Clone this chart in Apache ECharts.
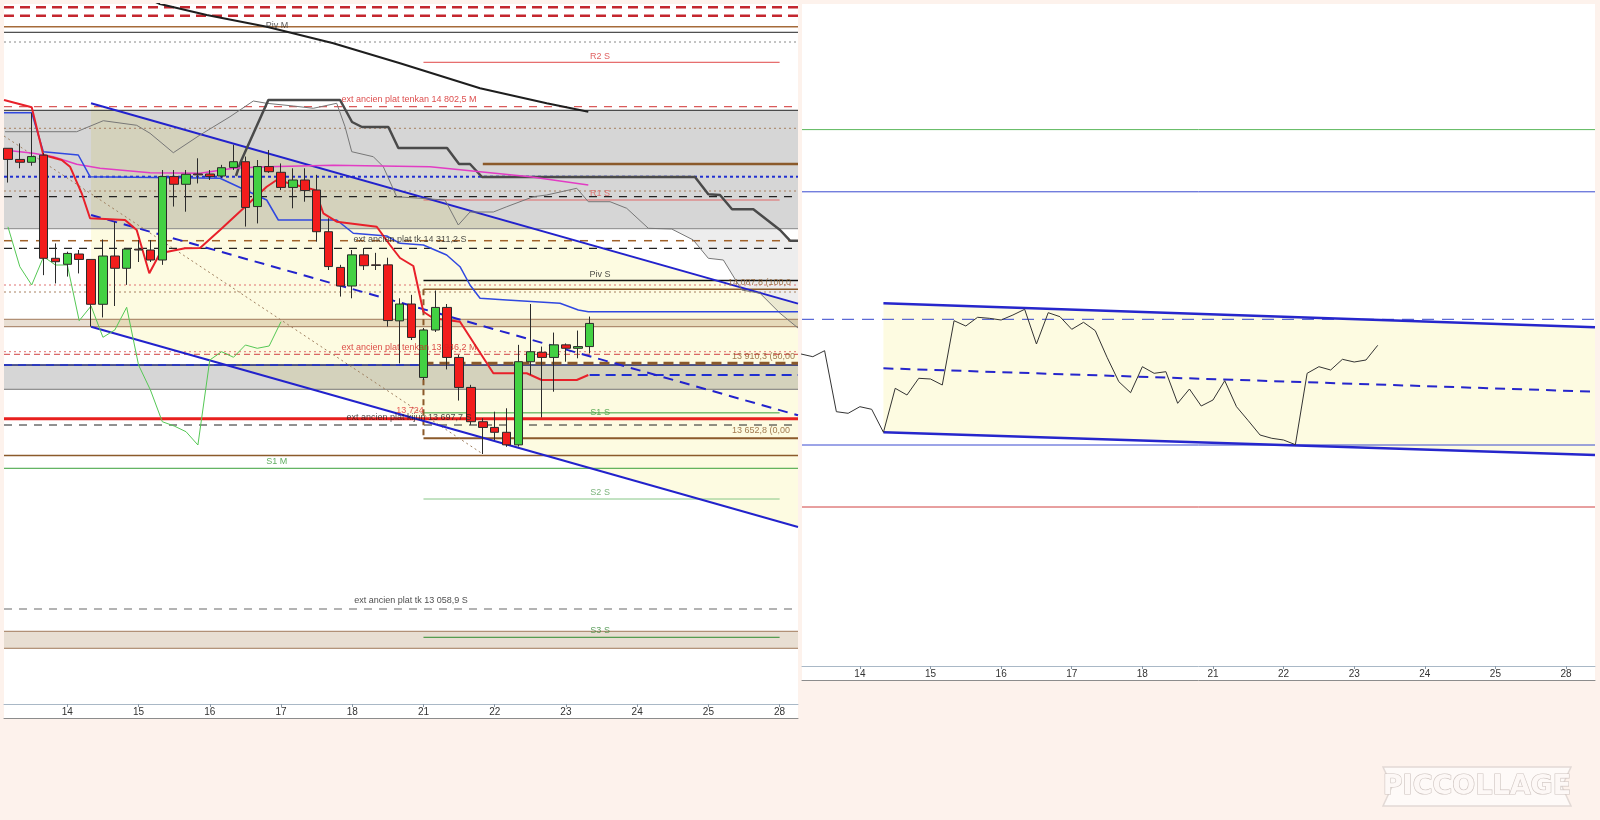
<!DOCTYPE html>
<html>
<head>
<meta charset="utf-8">
<title>Ichimoku 4h</title>
<script src="https://cdn.jsdelivr.net/npm/echarts@6.0.0/dist/echarts.min.js"></script>
<style>
html, body { margin: 0; padding: 0; background: #fdf2ec; }
#chart { width: 1600px; height: 820px; }
</style>
</head>
<body>
<div id="chart"></div>
<script>
// ---------- data (x in trading days from "14", 6 bars per day) ----------
var dayLabels = ['14', '15', '16', '17', '18', '21', '22', '23', '24', '25', '28'];
var dayTicks = [0, 1, 2, 3, 4, 5, 6, 7, 8, 9, 10];

var candleOpen = [14657, 14618, 14608, 14633, 14272, 14251, 14287, 14268, 14111, 14280, 14237, 14304, 14301, 14266, 14558, 14531, 14567, 14567, 14560, 14590, 14610, 14453, 14593, 14573, 14520, 14546, 14511, 14365, 14240, 14175, 14284, 14249, 14249, 14053, 14112, 13855, 14021, 14100, 13925, 13820, 13700, 13680, 13663, 13619, 13910, 13943, 13925, 13969, 13957, 13963];
var candleClose = [14618, 14608, 14628, 14272, 14260, 14289, 14268, 14111, 14280, 14237, 14304, 14301, 14266, 14558, 14531, 14566, 14564, 14558, 14589, 14610, 14450, 14593, 14575, 14520, 14546, 14509, 14365, 14243, 14175, 14284, 14246, 14247, 14054, 14112, 13995, 14021, 14100, 13925, 13820, 13700, 13680, 13663, 13619, 13910, 13945, 13925, 13969, 13957, 13963, 14044];
var candleLow = [14537, 14587, 14596, 14213, 14184, 14208, 14219, 14033, 14065, 14105, 14179, 14259, 14259, 14249, 14453, 14435, 14534, 14546, 14553, 14581, 14383, 14394, 14571, 14511, 14447, 14470, 14330, 14231, 14138, 14132, 14231, 14231, 14033, 13904, 13986, 13846, 14014, 13883, 13774, 13689, 13587, 13636, 13612, 13613, 13864, 13715, 13805, 13910, 13922, 13939];
var candleHigh = [14657, 14674, 14780, 14640, 14324, 14295, 14301, 14268, 14338, 14400, 14304, 14336, 14336, 14581, 14581, 14581, 14622, 14581, 14599, 14669, 14628, 14616, 14651, 14604, 14587, 14587, 14564, 14412, 14249, 14301, 14308, 14291, 14274, 14132, 14144, 14028, 14159, 14112, 13934, 13829, 13712, 13735, 13747, 13969, 14112, 13963, 14012, 13974, 14019, 14068];

var tenkan = [[-0.889, 14826], [-0.5, 14800.5], [-0.337, 14633.5], [-0.079, 14616], [0.038, 14592.5], [0.202, 14499.5], [0.319, 14412], [0.81, 14406], [0.974, 14371], [1.151, 14219.5], [1.301, 14289.5], [1.652, 14307], [1.863, 14308], [2.144, 14371], [2.799, 14522.5], [2.94, 14546], [3.478, 14511], [3.594, 14429.5], [3.782, 14400], [4.344, 14382.5], [4.53, 14318.5], [4.671, 14273], [4.858, 14245], [4.998, 14085], [5.138, 14062], [5.513, 14050], [5.981, 13869.5], [6.45, 13869.5], [6.66, 13846], [7.152, 13846], [7.314, 13863.5]];
var kijun = [[-0.889, 14781.5], [-0.5, 14781.5], [-0.337, 14645], [0.154, 14633.5], [0.319, 14557.5], [2.144, 14552], [2.799, 14476], [2.962, 14406], [3.782, 14406], [4.015, 14359.5], [4.484, 14350], [4.671, 14324.5], [4.998, 14318.5], [5.326, 14283.5], [5.513, 14242.5], [5.653, 14178.5], [5.794, 14132], [6.169, 14126], [6.917, 14114.5], [7.174, 14091], [7.314, 14085], [10.258, 14085]];
var spanA = [[-0.875, 14715], [0.132, 14715], [0.505, 14753.5], [0.974, 14737.5], [1.161, 14709.5], [1.488, 14641.5], [1.863, 14703.5], [2.284, 14767.5], [2.611, 14822.5], [2.799, 14814.5], [3.173, 14805], [3.454, 14797], [3.782, 14814.5], [3.899, 14732.5], [3.993, 14645], [4.296, 14627.5], [4.436, 14592.5], [4.624, 14487.5], [4.952, 14482], [5.303, 14476], [5.489, 14388.5], [5.653, 14434], [5.981, 14434], [6.169, 14452.5], [6.542, 14487.5], [6.73, 14493.5], [7.152, 14517], [7.314, 14470], [7.619, 14470], [7.853, 14447], [8.157, 14377], [8.485, 14374.5], [8.788, 14336], [8.999, 14272], [9.21, 14266], [9.468, 14161], [9.725, 14149.5], [10.006, 14079.5], [10.258, 14028]];
var spanB = [[2.368, 14560], [2.425, 14604.5], [2.822, 14826], [3.829, 14826], [3.997, 14749], [4.137, 14731.5], [4.507, 14731.5], [4.647, 14658], [5.331, 14658], [5.499, 14602], [5.653, 14602], [5.822, 14556.5], [8.812, 14556.5], [8.999, 14496], [9.163, 14493.5], [9.332, 14443.5], [9.631, 14443.5], [10.006, 14371], [10.146, 14333.5], [10.258, 14333.5]];
var chikouStart = 0;
var chikou = [14382, 14242.5, 14178.5, 14277.5, 14248.5, 14248.5, 14053.5, 14105, 13995.5, 14021, 14100.5, 13898.5, 13811, 13700, 13685, 13665, 13618.5, 13916, 13945, 13925.5, 13968.5, 13957, 13965, 14050];
var movingAvg = [[-0.889, 14651], [-0.477, 14639.5], [-0.197, 14627.5], [0.132, 14601], [0.459, 14587], [1.161, 14571.5], [1.863, 14569.5], [2.33, 14587], [2.799, 14592.5], [3.734, 14597.5], [5.092, 14592.5], [5.794, 14575], [6.496, 14557.5], [7.314, 14528.5]];
var monthlyLine = [[1.175, 15176], [1.301, 15162], [1.957, 15123.5], [2.799, 15082.5], [3.734, 15024.5], [4.671, 14954.5], [5.794, 14867], [6.73, 14814.5], [7.314, 14785]];
var fiboTrend = [[-0.889, 14700], [5.833, 13587]];
var fiboVertical = [[5.0, 14163.5], [5.0, 13642]];
var kumoZone = [[8.157, 14377], [8.485, 14374.5], [8.788, 14336], [8.999, 14272], [9.21, 14266], [9.468, 14161], [9.725, 14149.5], [10.006, 14079.5], [10.258, 14028], [10.258, 14333.5], [10.146, 14333.5], [10.006, 14371], [9.98, 14375.5]];

var channelUp = [[0.333, 14814.5], [10.258, 14113.4]];
var channelMid = [[0.333, 14423.5], [10.258, 13722.5]];
var channelLow = [[0.333, 14032.5], [10.258, 13331.5]];

// horizontal levels (left chart)
var topRedLevels = [15150.5, 15121];
var pivotM = 15082.5, monthBlack = 15063, monthDotted = 15029;
var r2s = 14958, r1s = 14476, pivS = 14194, s1s = 13731, s2s = 13429.5, s3s = 12945.5;
var tenkanOld = [14802.5, 13936], kijunOld = 13688.5, tkOld = [14333.5, 13044.5];
var bandHigh = [14790, 14375.5], bandLow = [13898.5, 13813.5];
var tanHigh = [14058.5, 14032.5], tanLow = [12966.5, 12907];
var fibo = [14163.5, 13904.5, 13642];
var brownDotted = [14727, 14507.5, 14154], redDotted = [14178.5, 13945];
var brownThick = 14602, blueDotted = 14557.5, blackDashed = [14487.5, 14307];
var kijunProj = 13863.5, redSupport = 13710.5, brownSupport = 13582, s1m = 13537;

var noteText = ['Piv M', 'R2 S', 'ext ancien plat tenkan 14 802,5 M', 'R1 S', 'ext ancien plat tk 14 311,2 S', 'Piv S', '14 087,8 (100,00 %)', 'ext ancien plat tenkan 13 946,2 M', '13 910,3 (50,00 %)', '13 724', 'S1 S', 'ext ancien plat kijun 13 697,7 S', '13 652,8 (0,00 %)', 'S1 M', 'S2 S', 'ext ancien plat tk 13 058,9 S', 'S3 S'];
var noteX = [2.944, 7.48, 4.797, 7.48, 4.811, 7.48, 9.275, 4.797, 9.332, 4.811, 7.48, 4.797, 9.332, 2.94, 7.48, 4.825, 7.48];
var noteY = [15085, 14978.3, 14827.8, 14497, 14336, 14215, 14185.5, 13960, 13926.5, 13737.5, 13731.5, 13713, 13667.5, 13559, 13450.5, 13072.5, 12967.5];

// right chart
var rightClose = [312, 309.3, 315.3, 254.3, 252.7, 259.3, 256.7, 233.7, 277.7, 271, 287.7, 287, 281, 345.3, 340, 348.7, 347.7, 346, 351, 356.7, 322, 353.3, 349.3, 336.7, 343.7, 335.3, 308.7, 284.3, 273.3, 299.3, 292.7, 294.3, 262.7, 277, 260, 266, 285.3, 259.3, 245.3, 231, 227.7, 226, 221.3, 292.7, 299.3, 296, 306.7, 304, 306, 320.7];
var rightLevels = [536.4, 474.2, 346.7, 221, 159];
var rightChannelUp = [[0.333, 362.7], [10.41, 338.7]];
var rightChannelMid = [[0.333, 297.7], [10.41, 274.3]];
var rightChannelLow = [[0.333, 233.7], [10.41, 211]];

// ---------- chart ----------
var L0 = -0.889, L1 = 10.258, R0 = -0.82, R1 = 10.41;
var FONT = '"Liberation Sans Narrow", "Liberation Sans", Arial, sans-serif';
function slotX(i) { return (i - 5) / 6; }

function seg(side, pts, color, width, dash, z) {
  return {
    type: 'line', xAxisIndex: side ? 2 : 0, yAxisIndex: side ? 1 : 0, z: z || 4,
    silent: true, symbol: 'none', animation: false,
    lineStyle: { color: color, width: width, type: dash || 'solid' },
    data: pts
  };
}
function hline(v, x0, x1, color, width, dash, z) {
  return seg(0, [[x0, v], [x1, v]], color, width, dash, z);
}
function poly(side, pts, color, z) {
  return {
    type: 'custom', xAxisIndex: side ? 2 : 0, yAxisIndex: side ? 1 : 0, z: z, silent: true, clip: true,
    animation: false, data: [pts[0]],
    renderItem: function (params, api) {
      return { type: 'polygon', shape: { points: pts.map(function (p) { return api.coord(p); }) }, style: { fill: color } };
    }
  };
}
function band(pair, color, z) {
  return poly(0, [[L0, pair[0]], [L1, pair[0]], [L1, pair[1]], [L0, pair[1]]], color, z);
}

var series = [];
// fills
series.push(poly(0, [channelUp[0], channelUp[1], channelLow[1], channelLow[0]], '#fdfbe1', 1));
series.push(band(bandHigh, 'rgba(0,0,0,0.16)', 2));
series.push(band(bandLow, 'rgba(0,0,0,0.16)', 2));
series.push(band(tanHigh, 'rgba(140,90,30,0.2)', 2));
series.push(band(tanLow, 'rgba(140,90,30,0.2)', 2));
series.push(poly(0, kumoZone, 'rgba(0,0,0,0.07)', 3));

// horizontal levels
topRedLevels.forEach(function (v) { series.push(hline(v, L0, L1, '#c4262e', 2.5, [10, 6])); });
series.push(hline(pivotM, L0, L1, '#a56b3a', 1.5));
series.push(hline(monthBlack, L0, L1, '#222', 1));
series.push(hline(monthDotted, L0, L1, '#888', 1, [2, 3]));
series.push(hline(r2s, 5, 10, '#e04848', 1));
series.push(hline(tenkanOld[0], L0, L1, '#d03030', 1, [8, 7]));
series.push(hline(bandHigh[0], L0, L1, '#222', 1));
brownDotted.forEach(function (v) { series.push(hline(v, L0, L1, '#a88060', 1, [2, 3])); });
series.push(hline(brownThick, 5.833, L1, '#8b5a2b', 2.5));
series.push(hline(blueDotted, L0, L1, '#2030d0', 2, [3, 3]));
blackDashed.forEach(function (v) { series.push(hline(v, L0, L1, '#222', 1.3, [8, 7])); });
series.push(hline(r1s, 5, 10, '#e06868', 1));
series.push(hline(bandHigh[1], L0, L1, '#888', 1));
series.push(hline(tkOld[0], L0, L1, '#a0622a', 1.5, [8, 8]));
series.push(hline(pivS, 5, L1, '#111', 1.5));
redDotted.forEach(function (v) { series.push(hline(v, L0, L1, '#e07070', 1, [2, 3])); });
series.push(hline(fibo[0], 5, L1, '#8b5a2b', 1.5));
tanHigh.forEach(function (v) { series.push(hline(v, L0, L1, '#a0785a', 1)); });
series.push(hline(tenkanOld[1], L0, L1, '#d04040', 1, [6, 4]));
series.push(hline(bandLow[0], L0, L1, '#1c2470', 1.5));
series.push(hline(bandLow[0], L0, 5, '#2233cc', 1.5, [8, 6]));
series.push(hline(fibo[1], 5, L1, '#8b5a2b', 3, [10, 6]));
series.push(hline(kijunProj, 7.333, L1, '#2030d0', 2, [10, 6]));
series.push(hline(bandLow[1], L0, L1, '#777', 1));
series.push(hline(s1s, 5, 10, '#3aa03a', 1));
series.push(hline(redSupport, L0, L1, '#e8201e', 3));
series.push(hline(kijunOld, L0, L1, '#222', 1, [8, 7]));
series.push(hline(fibo[2], 5, L1, '#8b5a2b', 2));
series.push(hline(brownSupport, L0, L1, '#8b5a2b', 1.5));
series.push(hline(s1m, L0, L1, '#3aa03a', 1));
series.push(hline(s2s, 5, 10, '#86c686', 1));
series.push(hline(tkOld[1], L0, L1, '#9a9a9a', 1.5, [8, 7]));
tanLow.forEach(function (v) { series.push(hline(v, L0, L1, '#a0785a', 1)); });
series.push(hline(s3s, 5, 10, '#2e8b2e', 1));
series.push(seg(0, fiboVertical, '#8b5a2b', 2, [6, 4]));
series.push(seg(0, fiboTrend, '#a08060', 1, [2, 3]));

// channel
series.push(seg(0, channelUp, '#2222cc', 2));
series.push(seg(0, channelMid, '#2222cc', 2, [10, 7]));
series.push(seg(0, channelLow, '#2222cc', 2));

// ichimoku & averages
series.push(seg(0, spanA, '#777', 1, 'solid', 5));
series.push(seg(0, spanB, '#4a4a4a', 2.5, 'solid', 5));
series.push(seg(0, movingAvg, '#e23cc4', 1.5, 'solid', 5));
series.push(seg(0, monthlyLine, '#1e1e1e', 2, 'solid', 5));
series.push(seg(0, kijun, '#3048e0', 1.5, 'solid', 5));
series.push(seg(0, tenkan, '#e8202a', 2, 'solid', 5));
series.push(seg(0, chikou.map(function (v, i) { return [slotX(chikouStart + i), v]; }), '#55c855', 1, 'solid', 5));

// candles
series.push({
  type: 'candlestick', xAxisIndex: 0, yAxisIndex: 0, z: 6, barWidth: 9, silent: true, animation: false,
  itemStyle: { color: '#43d143', color0: '#f21c1c', borderColor: '#2b2b2b', borderColor0: '#2b2b2b', borderWidth: 1 },
  data: candleOpen.map(function (o, i) { return [slotX(i), o, candleClose[i], candleLow[i], candleHigh[i]]; })
});

// labels
var noteColor = ['#333', '#d83a3a', '#d42020', '#e05a5a', '#222', '#222', '#8b5a2b', '#d42020', '#8b5a2b', '#e03030', '#3a9a3a', '#222', '#8b5a2b', '#3a9a3a', '#5aa05a', '#222', '#3a8a3a'];
series.push({
  type: 'scatter', xAxisIndex: 0, yAxisIndex: 0, z: 7, silent: true, animation: false, symbolSize: 1,
  itemStyle: { color: 'rgba(0,0,0,0)' },
  data: noteText.map(function (t, i) {
    var left = t.indexOf('%') > 0;
    return {
      value: [noteX[i], noteY[i]],
      label: {
        show: true, position: 'inside', formatter: function () { return t; },
        color: noteColor[i], fontSize: 9, fontFamily: FONT, align: left ? 'left' : 'center',
        width: left ? 68 : undefined, overflow: left ? 'truncate' : 'none', ellipsis: ''
      }
    };
  })
});

// right chart
series.push(poly(1, [rightChannelUp[0], rightChannelUp[1], rightChannelLow[1], rightChannelLow[0]], '#fdfbe1', 1));
var rightStyles = [['#5cb85c', 1, 'solid'], ['#3a4ad0', 1, 'solid'], ['#3344cc', 1, [12, 8]], ['#3a4ad0', 1, 'solid'], ['#d04040', 1, 'solid']];
rightLevels.forEach(function (v, i) {
  series.push(seg(1, [[R0, v], [R1, v]], rightStyles[i][0], rightStyles[i][1], rightStyles[i][2]));
});
series.push(seg(1, rightChannelUp, '#2626cc', 2.5));
series.push(seg(1, rightChannelMid, '#2626cc', 2, [10, 7]));
series.push(seg(1, rightChannelLow, '#2626cc', 2.5));
series.push(seg(1, rightClose.map(function (v, i) { return [slotX(i), v]; }), '#333', 1, 'solid', 5));

function mainX(grid, min, max) {
  return {
    type: 'value', gridIndex: grid, min: min, max: max, position: 'bottom',
    axisLine: { show: true, onZero: false, lineStyle: { color: '#a9b8c6', width: 1 } },
    axisTick: { show: true, customValues: dayTicks, length: 3, lineStyle: { color: '#8a98a6' } },
    axisLabel: {
      show: true, customValues: dayTicks, margin: 3, color: '#333', fontSize: 10, fontFamily: FONT,
      formatter: function (v) { return dayLabels[Math.round(v)]; }
    },
    splitLine: { show: false }
  };
}
function underX(grid, min, max) {
  return {
    type: 'value', gridIndex: grid, min: min, max: max, position: 'bottom', offset: 14,
    axisLine: { show: true, onZero: false, lineStyle: { color: '#8c8c8c' } },
    axisTick: { show: false }, axisLabel: { show: false }, splitLine: { show: false }
  };
}

var chart = echarts.init(document.getElementById('chart'));
chart.setOption({
  backgroundColor: '#fdf2ec',
  animation: false,
  graphic: [
    { type: 'rect', z: -10, shape: { x: 4, y: 4, width: 794, height: 714 }, style: { fill: '#fff' } },
    { type: 'rect', z: -10, shape: { x: 802, y: 4, width: 793, height: 676 }, style: { fill: '#fff' } },
    { type: 'polygon', shape: { points: [[1383, 767], [1571, 767], [1562, 786.5], [1571, 806], [1383, 806], [1392, 786.5]] }, style: { fill: '#fefaf8', stroke: '#e2d9d5', lineWidth: 1.5 } },
    { type: 'text', x: 1477, y: 787, style: { text: 'PICCOLLAGE', font: 'bold 27px "DejaVu Sans"', fill: '#fdf8f6', stroke: '#cfc5c1', lineWidth: 1.2, align: 'center', verticalAlign: 'middle' } }
  ],
  grid: [
    { left: 4, top: 4, width: 794, height: 700, containLabel: false, outerBoundsMode: 'none' },
    { left: 802, top: 4, width: 793, height: 662, containLabel: false, outerBoundsMode: 'none' }
  ],
  xAxis: [mainX(0, L0, L1), underX(0, L0, L1), mainX(1, R0, R1), underX(1, R0, R1)],
  yAxis: [
    { type: 'value', gridIndex: 0, min: 12712, max: 15162, show: false, splitLine: { show: false } },
    { type: 'value', gridIndex: 1, min: 0, max: 662, show: false, splitLine: { show: false } }
  ],
  series: series
});
</script>
</body>
</html>
